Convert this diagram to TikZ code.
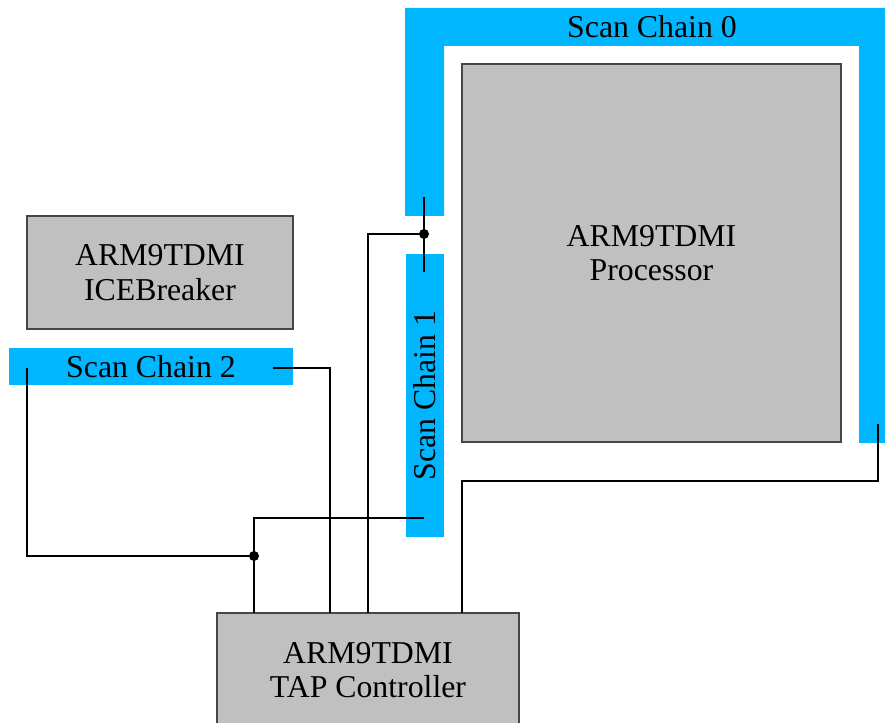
\documentclass[tikz,border=0pt]{standalone}
\usepackage{fontspec}
\setmainfont{Liberation Serif}
\usetikzlibrary{positioning}
\definecolor{JtCyan}{RGB}{0,183,255}
\definecolor{JtFill}{RGB}{192,192,192}
\definecolor{JtEdge}{RGB}{70,70,70}
\newcommand{\jtfont}{\fontsize{31.8}{34.5}\selectfont}
\tikzset{
  jt/box/.style={
    draw=JtEdge,
    line width=1.5pt,
    fill=JtFill,
    align=center,
    font=\jtfont,
    inner sep=0pt
  },
  jt/chain/.style={
    fill=JtCyan,
    align=center,
    font=\jtfont,
    inner sep=0pt
  },
  jt/label/.style={font=\jtfont, inner sep=0pt},
  jt/wire/.style={draw=black, line width=1.3pt},
  jt/dot/.style={circle, fill=black, inner sep=0pt, minimum size=10pt}
}

\begin{document}
\begin{tikzpicture}[x=1pt,y=1pt]
  \useasboundingbox (0,0) rectangle (885,722);
  \clip (0,0) rectangle (885,722);
  % scan chain 0 round the core
  \fill[JtCyan] (405,714) -- (885,714) -- (885,279) -- (859,279) -- (859,676)
    -- (444,676) -- (444,506) -- (405,506) -- cycle;
  \node[jt/label] (sc0) at (652,695) {Scan Chain 0};
  \node[jt/box,minimum width=379pt,minimum height=378pt] (proc) at (651.5,469) {ARM9TDMI\\Processor};
  \node[jt/chain,minimum width=283pt,minimum height=38pt,rotate=90] (sc1) at (425,326.5) {Scan Chain 1};
  \node[jt/box,minimum width=266pt,minimum height=113pt] (ice) at (160,449.5) {ARM9TDMI\\ICEBreaker};
  \node[jt/chain,minimum width=284pt,minimum height=37pt] (sc2) at (151,355.5) {Scan Chain 2};
  \node[jt/box,minimum width=302pt,minimum height=114pt] (tap) at (368,52) {ARM9TDMI\\TAP Controller};

  % pins
  \coordinate (sc0in) at (424,525);
  \coordinate (sc0out) at (878,298);
  \coordinate (sc0bend) at (462,241);
  \coordinate (sc1in) at (424,450);
  \coordinate (sc1out) at (424,204);
  \coordinate (sc2in) at (273,354);
  \coordinate (sc2out) at (27,354);
  \coordinate (taptdo) at (254,109);
  \coordinate (tapsc2) at (330,109);
  \coordinate (taptdi) at (368,109);
  \coordinate (tapsc0) at (462,109);
  \node[jt/dot] (jtdi) at (424,488) {};
  \node[jt/dot] (jtdo) at (254,166) {};

  \draw[jt/wire] (sc0in) -- (sc1in);
  \draw[jt/wire] (jtdi) -| (taptdi);
  \draw[jt/wire] (sc2in) -| (tapsc2);
  \draw[jt/wire] (sc2out) |- (jtdo);
  \draw[jt/wire] (sc1out) -| (taptdo);
  \draw[jt/wire] (sc0out) |- (sc0bend) -- (tapsc0);
\end{tikzpicture}
\end{document}
